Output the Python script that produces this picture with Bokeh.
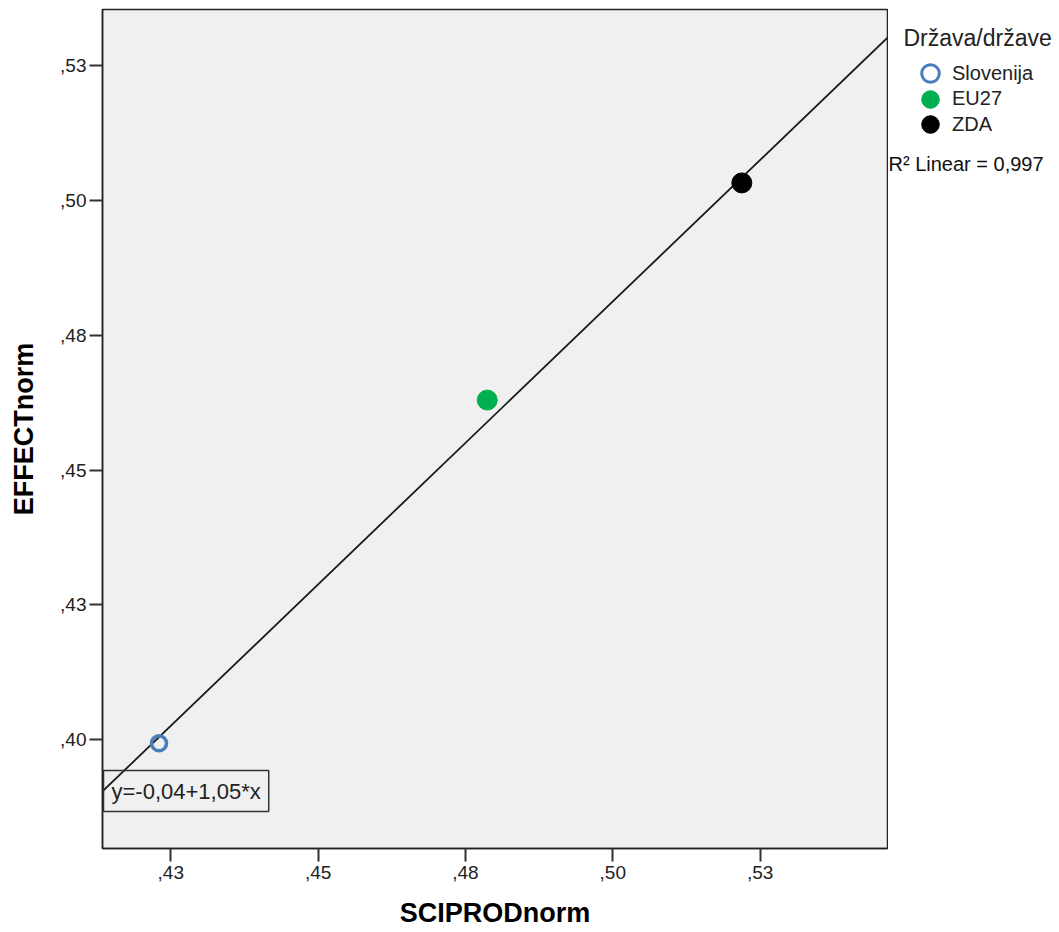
import numpy as np
from bokeh.plotting import figure
from bokeh.layouts import row
from bokeh.models import FixedTicker, Label, Legend, LegendItem, Range1d
from bokeh.embed import file_html
from bokeh.resources import INLINE

# ---- data ----
countries = ["Slovenija", "EU27", "ZDA"]
sciprod = [0.4230, 0.4787, 0.5219]
effect = [0.3993, 0.4630, 0.5033]
colors = ["#4A7EBB", "#00B050", "#000000"]

fit_intercept = -0.0437
fit_slope = 1.050
r2_linear = 0.997

x_ticks = [0.425, 0.45, 0.475, 0.5, 0.525]
x_tick_labels = [",43", ",45", ",48", ",50", ",53"]
y_ticks = [0.4, 0.425, 0.45, 0.475, 0.5, 0.525]
y_tick_labels = [",40", ",43", ",45", ",48", ",50", ",53"]

x_title = "SCIPRODnorm"
y_title = "EFFECTnorm"
legend_title = "Država/države"

FONT = "Liberation Sans"
H = 931
FRAME_LEFT, FRAME_TOP, FRAME_BOTTOM = 102, 9, 848
PW = 888

x0, x1 = 0.41341, 0.54662
y0, y1 = 0.37978, 0.53548

p = figure(width=PW, height=H, output_backend="svg", toolbar_location=None,
           x_range=Range1d(x0, x1), y_range=Range1d(y0, y1),
           min_border_left=FRAME_LEFT, min_border_right=1,
           min_border_top=FRAME_TOP, min_border_bottom=H - FRAME_BOTTOM)
p.background_fill_color = "#F0F0F0"
p.border_fill_color = "white"
p.outline_line_color = "#222222"
p.outline_line_width = 1.5
p.xgrid.visible = False
p.ygrid.visible = False

for ax in (p.xaxis[0], p.yaxis[0]):
    ax.axis_line_color = "#222222"
    ax.axis_line_width = 1.5
    ax.major_tick_line_color = "#333333"
    ax.major_tick_line_width = 2
    ax.major_tick_out = 13
    ax.major_tick_in = 0
    ax.minor_tick_line_color = None
    ax.major_label_text_font = FONT
    ax.major_label_text_font_size = "19px"
    ax.major_label_text_color = "#222222"
    ax.axis_label_text_font = FONT
    ax.axis_label_text_font_size = "27px"
    ax.axis_label_text_font_style = "bold"
    ax.axis_label_text_color = "#000000"

p.xaxis.ticker = FixedTicker(ticks=x_ticks)
p.xaxis.major_label_overrides = dict(zip(x_ticks, x_tick_labels))
p.yaxis.ticker = FixedTicker(ticks=y_ticks)
p.yaxis.major_label_overrides = dict(zip(y_ticks, y_tick_labels))
p.xaxis.axis_label = x_title
p.yaxis.axis_label = y_title
p.xaxis.major_label_standoff = 4
p.yaxis.major_label_standoff = 3
p.xaxis.axis_label_standoff = 16
p.yaxis.axis_label_standoff = 18

# fit line
lx = np.array([x0, x1])
ly = fit_intercept + fit_slope * lx
p.line(lx, ly, line_color="#1a1a1a", line_width=1.8)

# points
sizes = [15, 20, 20]
styles = []
for name, xv, yv, c, s in zip(countries, sciprod, effect, colors, sizes):
    if name == "Slovenija":
        st = dict(size=s, fill_color="white", fill_alpha=0, line_color=c, line_width=3.5)
    else:
        st = dict(size=s, fill_color=c, line_color=c, line_width=1)
    styles.append(st)
    p.scatter([xv], [yv], **st)

eq = "y=" + f"{fit_intercept:.2f}".replace(".", ",") + "+" + f"{fit_slope:.2f}".replace(".", ",") + "*x"
p.add_layout(Label(x=1, y=FRAME_BOTTOM - 790.5, x_units="screen", y_units="screen", text=eq,
                   text_font=FONT, text_font_size="22px", text_color="#222222",
                   text_baseline="middle", text_align="left",
                   background_fill_color=None, border_line_color="#333333",
                   border_line_width=1.5, padding=8))

# ---- legend panel on the right (its frame is aligned with the main frame) ----
W2 = 170
q = figure(width=W2, height=H, output_backend="svg", toolbar_location=None,
           x_range=Range1d(0, 1), y_range=Range1d(0, 1),
           x_axis_type=None, y_axis_type=None,
           min_border_left=0, min_border_right=0,
           min_border_top=FRAME_TOP, min_border_bottom=H - FRAME_BOTTOM)
q.outline_line_color = None
q.xgrid.visible = False
q.ygrid.visible = False
q.background_fill_color = "white"
q.border_fill_color = "white"

def px(ix):
    return ix - PW

def py(iy):
    return FRAME_BOTTOM - iy

GB = 44  # legend glyph box; marker drawn at 0.4 * box
item_centers = [73, 98.5, 124]
for name, st, cy in zip(countries, styles, item_centers):
    leg_st = dict(st)
    if name == "Slovenija":
        leg_st["line_width"] = 3
        leg_st["fill_alpha"] = 1
    r = q.scatter([np.nan], [np.nan], **leg_st)
    lg = Legend(items=[LegendItem(label=name, renderers=[r])],
                location=(px(930 - GB // 2), py(cy + GB / 2)),
                glyph_width=GB, glyph_height=GB, label_height=GB, spacing=0,
                label_standoff=0, padding=0, margin=0,
                label_text_font=FONT, label_text_font_size="20px", label_text_color="#222222",
                background_fill_alpha=0, border_line_alpha=0)
    q.add_layout(lg, "center")

q.add_layout(Label(x=px(903), y=py(37), x_units="screen", y_units="screen", text=legend_title,
                   text_font=FONT, text_font_size="23px", text_color="#222222",
                   text_baseline="middle", text_align="left"))

q.add_layout(Label(x=0, y=py(163), x_units="screen", y_units="screen",
                   text="R² Linear = " + f"{r2_linear:.3f}".replace(".", ","),
                   text_font=FONT, text_font_size="20px", text_color="#111111",
                   text_baseline="middle", text_align="left"))

layout = row(p, q, spacing=0)
open("out.html", "w").write(file_html(layout, INLINE))
